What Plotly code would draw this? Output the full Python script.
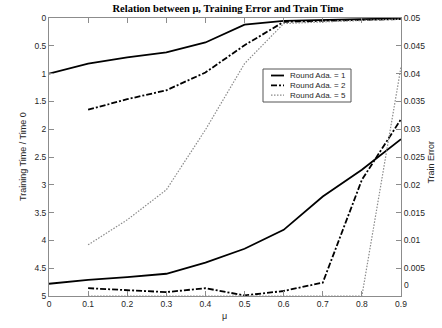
import plotly.graph_objects as go

# ---- data ----
mu = [0.0, 0.1, 0.2, 0.3, 0.4, 0.5, 0.6, 0.7, 0.8, 0.9]

time_r1 = [1.00, 0.82, 0.71, 0.62, 0.44, 0.12, 0.05, 0.03, 0.02, 0.01]
time_r2 = [None, 1.65, 1.46, 1.30, 0.98, 0.49, 0.07, 0.05, 0.03, 0.02]
time_r5 = [None, 4.08, 3.63, 3.09, 2.01, 0.82, 0.10, 0.07, 0.04, 0.02]

err_r1 = [0.0022, 0.0029, 0.0034, 0.0040, 0.0060, 0.0085, 0.0119, 0.0179, 0.0227, 0.0282]
err_r2 = [None, 0.0014, 0.0011, 0.0007, 0.0014, 0.0001, 0.0009, 0.0024, 0.0209, 0.0318]
err_r5 = [None, 0.0, 0.0, 0.0, 0.0, 0.0, 0.0, 0.0, 0.0, 0.0412]

err_ticks = [0, 0.005, 0.01, 0.015, 0.02, 0.025, 0.03, 0.035, 0.04, 0.045, 0.05]

series_names = ["Round Ada. = 1", "Round Ada. = 2", "Round Ada. = 5"]
title_text = "Relation between \u03bc, Training Error and Train Time"
left_title = "Training Time / Time 0"
right_title = "Train Error"
x_title = "\u03bc"

# ---- styles ----
W, H = 442, 328
L, R, T, B = 49, 41, 18, 32
PW, PH = W - L - R, H - T - B
styles = [
    dict(color="black", width=1.8, dash="solid"),
    dict(color="black", width=1.8, dash="6px,2px,2px,2px"),
    dict(color="#8a8a8a", width=1.2, dash="1.5px,1.5px"),
]
axis_col = "#8c8c8c"
txt_col = "#262626"
sans = "Liberation Sans, Arial, sans-serif"
tick_size = 8.5

fig = go.Figure()
for name, ys, st in zip(series_names, [time_r1, time_r2, time_r5], styles):
    fig.add_trace(go.Scatter(x=mu, y=ys, mode="lines", name=name, line=st,
                             yaxis="y", showlegend=False, connectgaps=False))
for name, ys, st in zip(series_names, [err_r1, err_r2, err_r5], styles):
    fig.add_trace(go.Scatter(x=mu, y=ys, mode="lines", name=name, line=st,
                             yaxis="y2", showlegend=False, connectgaps=False))

def px2paper_x(px):
    return (px - L) / PW

def px2paper_y(py):
    return 1 - (py - T) / PH

shapes = []
annotations = []
# manual legend box
shapes.append(dict(type="rect", xref="paper", yref="paper",
                   x0=px2paper_x(263), x1=px2paper_x(351),
                   y0=px2paper_y(102), y1=px2paper_y(69),
                   line=dict(color="#555555", width=1), fillcolor="white", layer="above"))
for i, (name, st) in enumerate(zip(series_names, styles)):
    yy = 75.5 + i * 9.8
    shapes.append(dict(type="line", xref="paper", yref="paper",
                       x0=px2paper_x(271), x1=px2paper_x(284),
                       y0=px2paper_y(yy), y1=px2paper_y(yy),
                       line=dict(color=st["color"], width=st["width"], dash=st["dash"]),
                       layer="above"))
    annotations.append(dict(text=name, xref="paper", yref="paper",
                            x=px2paper_x(288.5), y=px2paper_y(yy),
                            xanchor="left", yanchor="middle", showarrow=False,
                            borderpad=0,
                            font=dict(family=sans, size=8, color=txt_col)))

# axis titles
annotations.append(dict(text=left_title, xref="paper", yref="paper",
                        x=px2paper_x(23), y=0.5, textangle=-90,
                        xanchor="center", yanchor="middle", showarrow=False,
                        font=dict(family=sans, size=9, color=txt_col)))
annotations.append(dict(text=right_title, xref="paper", yref="paper",
                        x=px2paper_x(431), y=0.48, textangle=-90,
                        xanchor="center", yanchor="middle", showarrow=False,
                        font=dict(family=sans, size=9, color=txt_col)))
annotations.append(dict(text=x_title, xref="paper", yref="paper",
                        x=px2paper_x(224), y=px2paper_y(316),
                        xanchor="center", yanchor="middle", showarrow=False,
                        font=dict(family=sans, size=9, color=txt_col)))
# right-axis "0" label raised above the corner (as in the reference)
annotations.append(dict(text="%g" % err_ticks[0], xref="paper", yref="y2",
                        x=px2paper_x(403), y=err_ticks[0], yshift=5,
                        xanchor="left", yanchor="bottom", showarrow=False,
                        borderpad=0,
                        font=dict(family=sans, size=tick_size, color=txt_col)))

common = dict(showgrid=False, zeroline=False, showline=True, linecolor=axis_col,
              linewidth=1, ticks="inside", ticklen=5, tickcolor=axis_col,
              tickfont=dict(family=sans, size=tick_size, color=txt_col))

err_ticktext = [("" if v == 0 else "%g" % v) for v in err_ticks]

fig.update_layout(
    width=W, height=H, autosize=False,
    margin=dict(l=L, r=R, t=T, b=B, pad=0),
    paper_bgcolor="white", plot_bgcolor="white",
    title=dict(text="<b>" + title_text + "</b>", x=px2paper_x(228), xref="paper",
               xanchor="center", y=1 - 8.5 / H, yref="container", yanchor="middle",
               font=dict(family="Liberation Serif, Times New Roman, serif", size=10.5, color="black")),
    xaxis=dict(range=[0, 0.9], tick0=0, dtick=0.1, mirror="ticks", **common),
    yaxis=dict(range=[5, 0], tick0=0, dtick=0.5, **common),
    yaxis2=dict(range=[0, 0.05], tickmode="array", tickvals=err_ticks, ticktext=err_ticktext,
                overlaying="y", side="right", **common),
    shapes=shapes, annotations=annotations, showlegend=False,
)

fig.write_html("out.html")
